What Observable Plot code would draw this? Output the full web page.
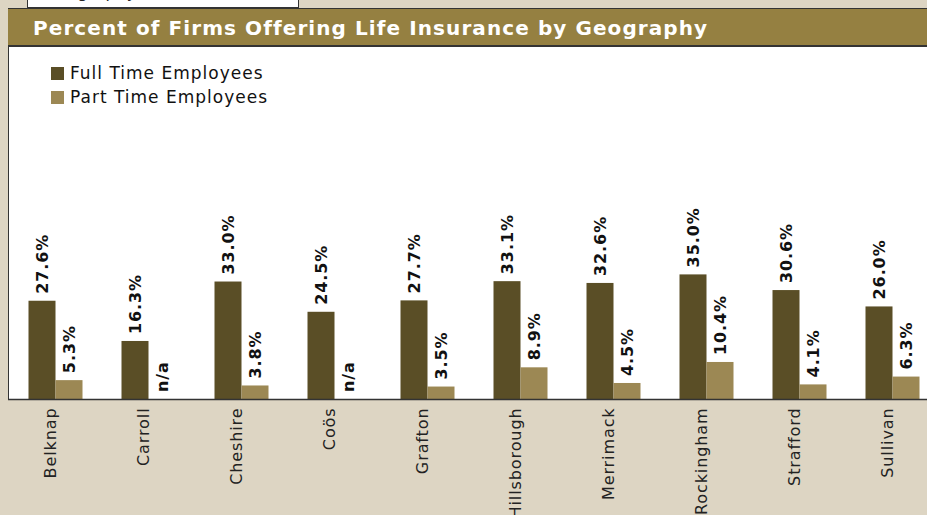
<!DOCTYPE html>
<html>
<head>
<meta charset="utf-8">
<script src="https://cdn.jsdelivr.net/npm/d3@7"></script>
<script src="https://cdn.jsdelivr.net/npm/@observablehq/plot@0.6"></script>
<style>
  html, body { margin: 0; padding: 0; }
  body { width: 927px; height: 515px; overflow: hidden; background: #ddd5c3; position: relative; font-family: "DejaVu Sans", sans-serif; }
  #tab { position: absolute; left: 27px; top: 0; width: 270px; height: 7px; background: #fff; border: 1px solid #333; border-top: none; overflow: hidden; }
  #tab span { position: absolute; left: 16px; top: -17px; font-size: 16px; color: #222; letter-spacing: 0.5px; }
  #panel { position: absolute; left: 8px; top: 8px; width: 940px; height: 391px; background: #fff; border-left: 1.5px solid #333; box-sizing: border-box; }
  #titlebar { position: absolute; left: 8px; top: 8px; width: 940px; height: 39px; background: #958041; border-top: 1.5px solid #333; border-bottom: 2px solid #333; box-sizing: border-box; }
  #title { position: absolute; left: 33px; top: 16px; color: #fff; font-weight: bold; font-size: 20px; letter-spacing: 1.08px; line-height: 24px; white-space: nowrap; }
  #legend { position: absolute; left: 51px; top: 61px; font-size: 17px; letter-spacing: 1px; color: #111; }
  .item { height: 24px; line-height: 20px; display: flex; align-items: center; white-space: nowrap; }
  .sw { width: 13px; height: 13px; margin-right: 6px; display: inline-block; }
  #chart { position: absolute; left: 0; top: 0; }
  #chart svg text { letter-spacing: 0.9px; }
</style>
</head>
<body>
<div id="tab"><span>Geography</span></div>
<div id="panel"></div>
<div id="titlebar"></div>
<div id="title">Percent of Firms Offering Life Insurance by Geography</div>
<div id="legend"></div>
<div id="chart"></div>
<script>
const counties = ["Belknap", "Carroll", "Cheshire", "Coös", "Grafton", "Hillsborough", "Merrimack", "Rockingham", "Strafford", "Sullivan"];
const fullTime = [27.6, 16.3, 33.0, 24.5, 27.7, 33.1, 32.6, 35.0, 30.6, 26.0];
const partTime = [5.3, null, 3.8, null, 3.5, 8.9, 4.5, 10.4, 4.1, 6.3];
const seriesNames = ["Full Time Employees", "Part Time Employees"];
const seriesColors = ["#5a4e26", "#9c8854"];

const ft = counties.map((c, i) => ({county: c, value: fullTime[i]}));
const pt = counties.map((c, i) => ({county: c, value: partTime[i]}));
const label = d => d.value == null ? "n/a" : d.value.toFixed(1) + "%";

const legend = document.getElementById("legend");
seriesNames.forEach((n, i) => {
  const div = document.createElement("div");
  div.className = "item";
  div.innerHTML = `<span class="sw" style="background:${seriesColors[i]}"></span><span>${n}</span>`;
  legend.appendChild(div);
});

const chart = Plot.plot({
  width: 927,
  height: 515,
  marginTop: 43,
  marginBottom: 116,
  marginLeft: 8,
  marginRight: 0,
  style: {background: "transparent", fontFamily: "DejaVu Sans", overflow: "visible", color: "#222"},
  x: {domain: counties, range: [8.5, 938.5], padding: 0, label: null},
  y: {domain: [0, 100], axis: null},
  marks: [
    Plot.barY(ft, {x: "county", y: "value", fill: seriesColors[0], insetLeft: 19.5, insetRight: 46.5}),
    Plot.barY(pt.filter(d => d.value != null), {x: "county", y: "value", fill: seriesColors[1], insetLeft: 46.5, insetRight: 19.5}),
    Plot.text(ft, {x: "county", y: "value", text: label, rotate: -90, textAnchor: "start", dx: -13.5, dy: -7.5, fontSize: 16, fontWeight: "bold", fill: "#111"}),
    Plot.text(pt, {x: "county", y: d => d.value ?? 0, text: label, rotate: -90, textAnchor: "start", dx: 13.5, dy: -7.5, fontSize: 16, fontWeight: "bold", fill: "#111"}),
    Plot.ruleY([0], {stroke: "#333", strokeWidth: 1.5}),
    Plot.axisX({tickSize: 0, tickPadding: 8, tickRotate: -90, fontSize: 16, dx: -5, fill: "#222", label: null})
  ]
});
document.getElementById("chart").appendChild(chart);
</script>
</body>
</html>
